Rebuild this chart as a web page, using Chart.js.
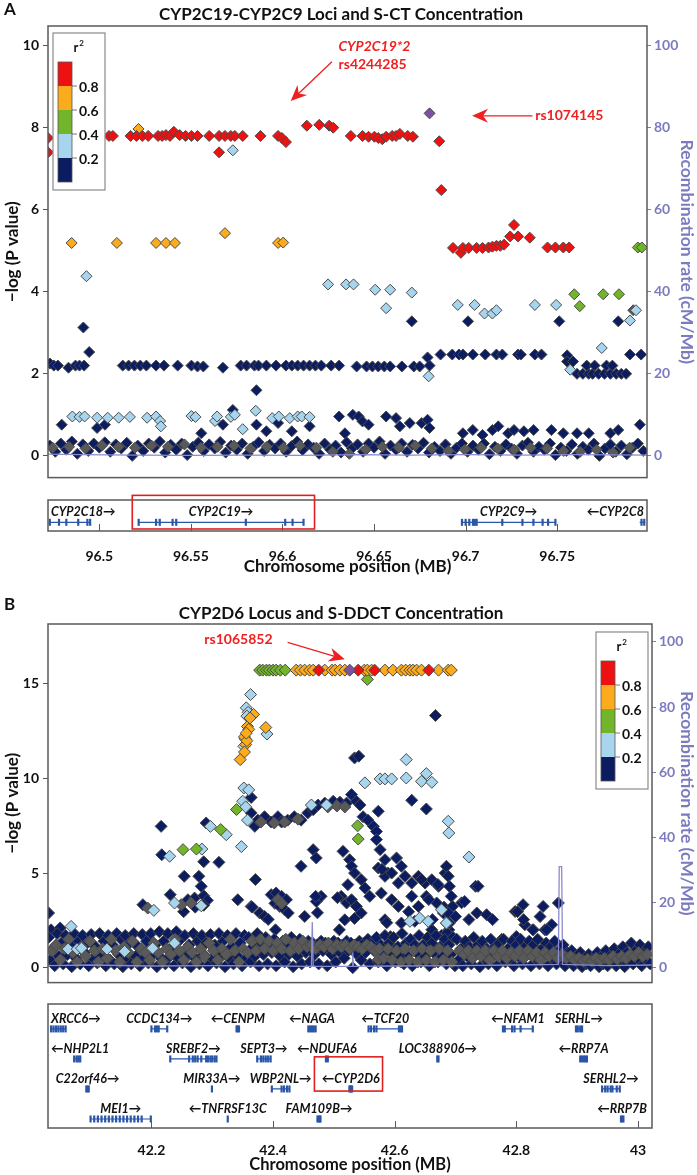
<!DOCTYPE html>
<html>
<head>
<meta charset="utf-8">
<script src="https://cdn.jsdelivr.net/npm/chart.js@4/dist/chart.umd.min.js"></script>
<style>
  body { margin: 0; background: #fff; width: 697px; height: 1175px; overflow: hidden; }
  canvas { position: absolute; left: 0; }
</style>
</head>
<body>
<canvas id="aMain" width="697" height="490" style="top:0"></canvas>
<canvas id="aGene" width="697" height="95" style="top:490px"></canvas>
<canvas id="bMain" width="697" height="410" style="top:585px"></canvas>
<canvas id="bGene" width="697" height="180" style="top:995px"></canvas>
<script>
// r2 colour key (top to bottom) and its break labels
const ldColors = ['#ee1111', '#fbab1c', '#72b42a', '#a8d5ee', '#0b1c60'];
const ldBreaks = [0.8, 0.6, 0.4, 0.2];
const leadColor = '#7a529e';
const grayColor = '#595959';
const recombColor = '#8a8ad0';
const axisBlue = '#7b7bbf';

// ---------- panel A : CYP2C19-CYP2C9 (x in MB, y = -log10 P) ----------
const aXTicks = [96.5, 96.55, 96.6, 96.65, 96.7, 96.75];
const aYTicks = [0, 2, 4, 6, 8, 10];
const aRTicks = [0, 20, 40, 60, 80, 100];

const aLead = [[96.6803, 8.35]];
const aRed = [
  [96.4720, 7.75], [96.4720, 7.4], [96.5053, 7.8], [96.5074, 7.8], [96.5171, 7.8], [96.5203, 7.8], [96.5235, 7.8],
  [96.5267, 7.8], [96.5321, 7.8], [96.5343, 7.8], [96.5364, 7.82], [96.5386, 7.8], [96.5407, 7.9], [96.5439, 7.82],
  [96.5471, 7.8], [96.5503, 7.8], [96.5536, 7.8], [96.5600, 7.8], [96.5654, 7.8], [96.5654, 7.4], [96.5686, 7.8],
  [96.5718, 7.8], [96.5740, 7.8], [96.5783, 7.8], [96.5880, 7.8], [96.5976, 7.8], [96.5997, 7.75], [96.6019, 7.65],
  [96.6133, 8.05], [96.6201, 8.07], [96.6255, 8.05], [96.6277, 8.0],
  [96.6373, 7.8], [96.6437, 7.8], [96.6470, 7.78], [96.6502, 7.78], [96.6523, 7.75], [96.6545, 7.72], [96.6566, 7.78],
  [96.6599, 7.8], [96.6620, 7.8], [96.6641, 7.85], [96.6684, 7.8], [96.6712, 7.78],
  [96.6856, 7.67], [96.6867, 6.48],
  [96.6931, 5.07], [96.6974, 4.95], [96.6985, 5.07], [96.7017, 5.07], [96.7060, 5.07], [96.7092, 5.07], [96.7125, 5.08],
  [96.7146, 5.1], [96.7168, 5.12], [96.7189, 5.12], [96.7210, 5.15],
  [96.7243, 5.35], [96.7264, 5.63], [96.7286, 5.35], [96.7350, 5.32],
  [96.7447, 5.08], [96.7490, 5.08], [96.7533, 5.08], [96.7565, 5.08]
];
const aOrange = [
  [96.5214, 7.97], [96.4849, 5.19], [96.5096, 5.19], [96.5310, 5.19], [96.5364, 5.19], [96.5413, 5.19],
  [96.5686, 5.43], [96.5976, 5.19], [96.6004, 5.2]
];
const aGreen = [
  [96.7940, 5.08], [96.7962, 5.08], [96.7593, 3.94], [96.7751, 3.94], [96.7837, 3.94], [96.7623, 3.65]
];
const aLightBlue = [
  [96.5729, 7.45], [96.4930, 4.38], [96.6249, 4.18], [96.6347, 4.18], [96.6388, 4.18], [96.6506, 4.05], [96.6588, 4.05],
  [96.6706, 3.98], [96.6566, 3.6], [96.6957, 3.68], [96.7049, 3.68], [96.7378, 3.68], [96.7494, 3.68], [96.7103, 3.47],
  [96.7146, 3.47], [96.7168, 3.55], [96.7897, 3.3], [96.7930, 3.55], [96.6798, 1.94], [96.7571, 2.1], [96.7743, 2.63],
  [96.4853, 0.96], [96.4892, 0.95], [96.4920, 0.96], [96.4988, 0.93], [96.5046, 0.93], [96.5106, 0.93], [96.5167, 0.95],
  [96.5261, 0.93], [96.5310, 0.96], [96.5332, 0.85], [96.5336, 0.72], [96.5503, 0.97], [96.5525, 0.95], [96.5632, 0.85],
  [96.5643, 0.96], [96.5718, 0.95], [96.5740, 1.0], [96.5854, 1.1], [96.5783, 0.65], [96.5944, 0.92], [96.5980, 0.96],
  [96.6040, 0.92], [96.6083, 0.96], [96.6105, 0.96], [96.6148, 0.95]
];
const aGray = [
  [96.7915, 3.55], [96.4745, 0.2], [96.4835, 0.22], [96.4925, 0.18], [96.5015, 0.25], [96.5105, 0.22], [96.5195, 0.2],
  [96.5285, 0.25], [96.5375, 0.22], [96.5465, 0.28], [96.5555, 0.2], [96.5645, 0.22], [96.5735, 0.25], [96.5825, 0.18],
  [96.5915, 0.22], [96.6005, 0.2], [96.6095, 0.25], [96.6185, 0.2], [96.6275, 0.1], [96.6365, 0.05], [96.6455, 0.15],
  [96.6545, 0.22], [96.6635, 0.2], [96.6725, 0.25], [96.6815, 0.18], [96.6905, 0.12], [96.6995, 0.15], [96.7085, 0.2],
  [96.7175, 0.18], [96.7265, 0.15], [96.7355, 0.2], [96.7445, 0.18], [96.7535, 0.12], [96.7625, 0.1], [96.7715, 0.15],
  [96.7805, 0.08], [96.7895, 0.2]
];
const aNavy = [
  [96.6706, 3.28], [96.7013, 3.28], [96.7511, 3.28], [96.7833, 3.28], [96.4913, 3.13], [96.4945, 2.53],
  [96.4731, 2.25], [96.4752, 2.2], [96.4774, 2.2], [96.4832, 2.15], [96.4870, 2.2], [96.4892, 2.2], [96.4917, 2.2],
  [96.5128, 2.2], [96.5160, 2.2], [96.5192, 2.2], [96.5224, 2.2], [96.5257, 2.2], [96.5310, 2.2], [96.5353, 2.2],
  [96.5428, 2.2], [96.5503, 2.2], [96.5536, 2.18], [96.5568, 2.18], [96.5675, 2.15], [96.5772, 2.2], [96.5804, 2.2],
  [96.5847, 2.2], [96.5869, 2.2], [96.5912, 2.2], [96.5965, 2.2], [96.6019, 2.2], [96.6051, 2.2], [96.6083, 2.2],
  [96.6115, 2.2], [96.6148, 2.2], [96.6180, 2.2], [96.6212, 2.2], [96.6266, 2.2], [96.6309, 2.2], [96.6405, 2.18],
  [96.6459, 2.18], [96.6491, 2.18], [96.6523, 2.18], [96.6556, 2.18], [96.6588, 2.18], [96.6652, 2.18], [96.6717, 2.18],
  [96.6749, 2.18], [96.6792, 2.4], [96.6803, 2.2],
  [96.6863, 2.47], [96.6927, 2.47], [96.6964, 2.47], [96.6985, 2.47], [96.7039, 2.47], [96.7107, 2.47], [96.7168, 2.47],
  [96.7200, 2.47], [96.7286, 2.47], [96.7301, 2.47], [96.7378, 2.47], [96.7414, 2.47], [96.7554, 2.45], [96.7897, 2.47],
  [96.7958, 2.47],
  [96.7554, 2.3], [96.7586, 2.3], [96.7608, 2.0], [96.7640, 2.0], [96.7672, 2.0], [96.7693, 2.0], [96.7726, 2.0],
  [96.7758, 2.0], [96.7790, 2.0], [96.7822, 2.0], [96.7850, 2.0], [96.7876, 2.0], [96.7661, 2.2], [96.7704, 2.2],
  [96.7769, 2.2], [96.7801, 2.2], [96.5858, 1.6],
  [96.4795, 0.76], [96.4988, 0.68], [96.5031, 0.76], [96.5557, 0.55], [96.5675, 0.76], [96.5729, 1.12], [96.5858, 0.76],
  [96.5912, 0.6], [96.5976, 0.8], [96.6051, 0.6], [96.6148, 0.72], [96.6309, 0.96], [96.6341, 0.55], [96.6384, 1.0],
  [96.6416, 0.96], [96.6437, 0.84], [96.6470, 0.76], [96.6566, 0.96], [96.6620, 0.92], [96.6641, 0.72], [96.6695, 0.8],
  [96.6760, 0.8], [96.6792, 0.88], [96.6803, 0.68], [96.6985, 0.55], [96.7039, 0.63], [96.7092, 0.51], [96.7146, 0.63],
  [96.7178, 0.72], [96.7232, 0.55], [96.7264, 0.63], [96.7318, 0.6], [96.7371, 0.63], [96.7468, 0.63], [96.7533, 0.55],
  [96.7608, 0.55], [96.7672, 0.55], [96.7790, 0.55], [96.7833, 0.63], [96.7951, 0.76],
  [96.473, 0.25], [96.476, 0.1], [96.479, 0.3], [96.482, 0.15], [96.485, 0.35], [96.488, 0.05], [96.491, 0.28],
  [96.494, 0.12], [96.497, 0.3], [96.500, 0.2], [96.503, 0.33], [96.506, 0.1], [96.509, 0.28], [96.512, 0.18],
  [96.515, 0.32], [96.518, 0.0], [96.521, 0.25], [96.524, 0.12], [96.527, 0.3], [96.530, 0.2], [96.533, 0.35],
  [96.536, 0.08], [96.539, 0.27], [96.542, 0.15], [96.545, 0.3], [96.548, 0.02], [96.551, 0.22], [96.554, 0.32],
  [96.557, 0.12], [96.560, 0.28], [96.563, 0.18], [96.566, 0.34], [96.569, 0.08], [96.572, 0.25], [96.575, 0.15],
  [96.578, 0.3], [96.581, 0.05], [96.584, 0.22], [96.587, 0.33], [96.590, 0.12], [96.593, 0.27], [96.596, 0.18],
  [96.599, 0.3], [96.602, 0.1], [96.605, 0.24], [96.608, 0.35], [96.611, 0.14], [96.614, 0.28], [96.617, 0.2],
  [96.620, 0.05], [96.623, 0.3], [96.626, 0.15], [96.629, 0.25], [96.632, 0.08], [96.635, 0.33], [96.638, 0.18],
  [96.641, 0.28], [96.644, 0.1], [96.647, 0.3], [96.650, 0.2], [96.653, 0.35], [96.656, 0.05], [96.659, 0.25],
  [96.662, 0.15], [96.665, 0.3], [96.668, 0.1], [96.671, 0.27], [96.674, 0.18], [96.677, 0.32], [96.680, 0.08],
  [96.683, 0.22], [96.686, 0.12], [96.689, 0.28], [96.692, 0.05], [96.695, 0.2], [96.698, 0.3], [96.701, 0.1],
  [96.704, 0.25], [96.707, 0.15], [96.710, 0.3], [96.713, 0.04], [96.716, 0.22], [96.719, 0.12], [96.722, 0.28],
  [96.725, 0.18], [96.728, 0.05], [96.731, 0.25], [96.734, 0.32], [96.737, 0.1], [96.740, 0.22], [96.743, 0.15],
  [96.746, 0.3], [96.749, 0.02], [96.752, 0.2], [96.755, 0.12], [96.758, 0.28], [96.761, 0.05], [96.764, 0.22],
  [96.767, 0.15], [96.770, 0.3], [96.773, 0.0], [96.776, 0.18], [96.779, 0.28], [96.782, 0.1], [96.785, 0.25],
  [96.788, 0.04], [96.791, 0.2], [96.794, 0.3], [96.797, 0.12]
];
const aRecomb = [
  [96.472, 0.4], [96.49, 0.3], [96.52, 0.2], [96.55, 0.1], [96.58, 0.2], [96.61, 0.1],
  [96.64, 0.3], [96.67, 0.2], [96.70, 0.3], [96.73, 0.2], [96.76, 0.3], [96.799, 0.2]
];
// genes: name, start, end, strand, row, exons
const aGenes = [
  ['CYP2C18', 96.473, 96.495, '+', 0, [96.473, 96.478, 96.482, 96.4885, 96.4935, 96.495]],
  ['CYP2C19', 96.5215, 96.6115, '+', 0, [96.5215, 96.531, 96.533, 96.540, 96.542, 96.580, 96.6015, 96.6055, 96.6115]],
  ['CYP2C9', 96.698, 96.749, '+', 0, [96.698, 96.700, 96.702, 96.704, 96.705, 96.706, 96.720, 96.731, 96.737, 96.742, 96.745, 96.749]],
  ['CYP2C8', 96.795, 96.798, '-', 0, [96.796, 96.7975]]
];

// ---------- panel B : CYP2D6 ----------
const bXTicks = [42.2, 42.4, 42.6, 42.8, 43];
const bYTicks = [0, 5, 10, 15];
const bRTicks = [0, 20, 40, 60, 80, 100];

const bLead = [[42.526, 15.73]];
const bRed = [[42.475, 15.73], [42.540, 15.73], [42.567, 15.73], [42.656, 15.73]];
const bOrange = [
  [42.438, 15.73], [42.445, 15.73], [42.452, 15.73], [42.460, 15.73], [42.466, 15.73], [42.485, 15.73], [42.497, 15.73],
  [42.502, 15.73], [42.510, 15.73], [42.518, 15.73], [42.550, 15.73], [42.555, 15.73], [42.562, 15.73], [42.584, 15.73],
  [42.597, 15.73], [42.611, 15.73], [42.618, 15.73], [42.625, 15.73], [42.630, 15.73], [42.636, 15.73], [42.644, 15.73],
  [42.672, 15.73], [42.688, 15.73], [42.693, 15.73],
  [42.368, 13.39], [42.358, 12.75], [42.360, 12.6], [42.353, 12.2], [42.355, 11.8], [42.353, 11.4], [42.346, 11.0],
  [42.357, 12.0], [42.356, 12.4], [42.388, 12.7], [42.362, 13.2]
];
const bGreen = [
  [42.378, 15.73], [42.383, 15.73], [42.389, 15.73], [42.394, 15.73], [42.400, 15.73], [42.405, 15.73], [42.412, 15.73],
  [42.420, 15.73], [42.555, 15.24], [42.340, 8.36], [42.314, 7.3], [42.252, 6.24], [42.274, 6.27], [42.539, 7.5],
  [42.540, 6.8]
];
const bLightBlue = [
  [42.363, 14.44], [42.356, 13.74], [42.359, 13.5], [42.357, 13.3], [42.354, 12.1], [42.352, 11.7], [42.390, 12.35],
  [42.352, 9.5], [42.360, 9.4], [42.350, 8.8], [42.355, 8.5], [42.358, 7.8], [42.348, 6.4], [42.297, 7.47], [42.323, 7.03],
  [42.230, 5.89], [42.283, 6.27], [42.238, 3.42], [42.282, 3.27], [42.204, 3.03], [42.068, 2.18], [42.063, 0.98],
  [42.078, 0.98], [42.085, 1.03], [42.127, 0.98], [42.156, 0.86], [42.202, 1.03], [42.238, 1.3], [42.619, 11.0],
  [42.551, 9.77], [42.576, 9.98], [42.584, 9.98], [42.595, 9.98], [42.619, 10.03], [42.644, 9.85], [42.652, 10.26],
  [42.661, 9.8], [42.463, 8.6], [42.488, 8.6], [42.625, 2.45], [42.641, 2.62], [42.655, 2.45], [42.677, 3.06],
  [42.685, 2.35], [42.688, 7.74], [42.689, 7.12], [42.722, 5.85], [42.685, 2.36]
];
const bGray = [
  [42.249, 3.33], [42.265, 3.42], [42.194, 3.15], [42.573, 0.42], [42.380, 7.7], [42.402, 7.65], [42.419, 7.7],
  [42.441, 7.85], [42.490, 8.5], [42.505, 8.55], [42.518, 8.5], [42.408, 3.6], [42.414, 3.4],
  [42.036, 0.9], [42.043, 1.2], [42.050, 0.4], [42.057, 1.0], [42.064, 1.5], [42.071, 0.8], [42.078, 0.3], [42.085, 1.1],
  [42.092, 0.6], [42.099, 1.4], [42.106, 0.9], [42.113, 0.3], [42.120, 1.0], [42.127, 0.5], [42.134, 1.5], [42.141, 0.9],
  [42.148, 0.3], [42.155, 1.1], [42.162, 0.8], [42.169, 1.4], [42.176, 0.3], [42.183, 1.0], [42.190, 0.8], [42.197, 0.4],
  [42.204, 1.3], [42.211, 0.8], [42.218, 0.3], [42.225, 1.0], [42.232, 0.7], [42.239, 1.5], [42.246, 0.9], [42.253, 0.4],
  [42.260, 1.1], [42.267, 0.8], [42.274, 0.3], [42.281, 1.0], [42.288, 0.6], [42.295, 1.3], [42.302, 0.9], [42.309, 0.4],
  [42.316, 1.0], [42.323, 0.7], [42.330, 1.5], [42.337, 0.9], [42.344, 0.3], [42.351, 1.0], [42.358, 0.8],
  [42.365, 1.4], [42.372, 0.9], [42.379, 1.5], [42.386, 1.0], [42.393, 1.4], [42.400, 0.9], [42.407, 1.3], [42.414, 1.0],
  [42.421, 1.5], [42.428, 0.9], [42.435, 1.3], [42.442, 1.0], [42.449, 1.4], [42.456, 1.1], [42.463, 1.2], [42.470, 1.0],
  [42.477, 1.2], [42.484, 1.1], [42.491, 1.3], [42.498, 1.0], [42.505, 1.2], [42.512, 1.1], [42.519, 1.2], [42.526, 1.0],
  [42.533, 1.2], [42.540, 1.1], [42.547, 1.0], [42.554, 1.2], [42.561, 1.1], [42.568, 0.9], [42.575, 1.0], [42.582, 0.5],
  [42.589, 1.0], [42.596, 0.4], [42.603, 0.9], [42.610, 0.3], [42.617, 1.0], [42.624, 0.4], [42.631, 0.9], [42.638, 0.3],
  [42.645, 1.0], [42.652, 0.4], [42.659, 0.9], [42.666, 0.3], [42.673, 1.0], [42.680, 0.4], [42.687, 0.9], [42.694, 0.3],
  [42.707, 0.9], [42.714, 0.7], [42.721, 0.9], [42.728, 0.5], [42.735, 0.9], [42.742, 0.6], [42.749, 0.9], [42.756, 0.4],
  [42.763, 0.9], [42.770, 0.6], [42.777, 0.9], [42.784, 0.5], [42.791, 0.8], [42.798, 0.6], [42.805, 0.9], [42.812, 0.5],
  [42.819, 0.9], [42.826, 0.6], [42.833, 0.8], [42.840, 0.4], [42.847, 0.8], [42.854, 0.6], [42.861, 0.8], [42.868, 0.5],
  [42.875, 0.7], [42.882, 0.5], [42.889, 0.6], [42.896, 0.4], [42.903, 0.5], [42.910, 0.35], [42.917, 0.45], [42.924, 0.35],
  [42.931, 0.5], [42.938, 0.4], [42.945, 0.5], [42.952, 0.4], [42.959, 0.6], [42.966, 0.45], [42.973, 0.6], [42.980, 0.5],
  [42.987, 0.7], [42.994, 0.6], [43.001, 0.8], [43.008, 0.6], [43.015, 0.7]
];
const bNavy = [
  [42.667, 13.33], [42.534, 11.09], [42.541, 11.18], [42.628, 8.85], [42.652, 8.39], [42.364, 9.0], [42.216, 7.47],
  [42.290, 7.65], [42.217, 5.97], [42.311, 5.57], [42.254, 4.83], [42.278, 4.83], [42.231, 3.86], [42.260, 3.59],
  [42.271, 3.68], [42.286, 3.8], [42.292, 3.56], [42.186, 3.33], [42.342, 3.59], [42.031, 2.89], [42.035, 2.0],
  [42.050, 2.1],
  [42.364, 8.18], [42.370, 7.47], [42.375, 7.8], [42.386, 7.98], [42.397, 7.7], [42.408, 7.98], [42.414, 7.7],
  [42.424, 7.8], [42.435, 7.98], [42.446, 7.8], [42.457, 8.18], [42.466, 8.35], [42.474, 8.6], [42.485, 8.7],
  [42.499, 8.8], [42.510, 8.75], [42.521, 8.7], [42.529, 9.15], [42.537, 8.8], [42.543, 8.6], [42.548, 7.98],
  [42.556, 7.8], [42.565, 7.47], [42.570, 7.2],
  [42.573, 8.27], [42.576, 6.24], [42.584, 5.71], [42.603, 5.8], [42.570, 6.77], [42.589, 5.0], [42.611, 5.36],
  [42.446, 5.36], [42.466, 6.24], [42.471, 5.8], [42.515, 6.15], [42.526, 5.71], [42.529, 5.36], [42.534, 5.0],
  [42.545, 4.65], [42.523, 4.39], [42.551, 4.21], [42.559, 3.77],
  [42.397, 3.86], [42.405, 3.95], [42.414, 3.77], [42.422, 3.59], [42.403, 3.4], [42.411, 3.24], [42.419, 3.06],
  [42.425, 2.89], [42.364, 3.24], [42.378, 2.89], [42.386, 2.71], [42.471, 3.5], [42.479, 3.77], [42.452, 2.71],
  [42.512, 3.77], [42.521, 3.42], [42.529, 3.59], [42.537, 3.24], [42.545, 2.89], [42.518, 2.53], [42.534, 2.6],
  [42.573, 5.27], [42.584, 4.83], [42.595, 5.0], [42.606, 4.47], [42.617, 4.83], [42.628, 4.47], [42.639, 4.83],
  [42.650, 4.47], [42.661, 4.65], [42.672, 4.3], [42.683, 5.0], [42.578, 3.94], [42.595, 3.59], [42.606, 3.24],
  [42.628, 3.77], [42.639, 3.24], [42.652, 3.77], [42.669, 3.42], [42.680, 2.89], [42.584, 2.53], [42.611, 2.36],
  [42.633, 2.45], [42.661, 2.0], [42.677, 1.7],
  [42.253, 2.96], [42.272, 3.2], [42.282, 4.3], [42.286, 5.6], [42.286, 3.3], [42.366, 3.2], [42.392, 2.55],
  [42.404, 2.0], [42.371, 4.66], [42.470, 3.77], [42.473, 2.9], [42.506, 3.7], [42.509, 2.0], [42.579, 5.2],
  [42.587, 2.38], [42.593, 1.64], [42.623, 2.96], [42.644, 4.66], [42.656, 3.6], [42.662, 2.54], [42.671, 4.4],
  [42.681, 3.2], [42.689, 2.0],
  [42.685, 5.36], [42.688, 4.83], [42.690, 4.3], [42.693, 3.77], [42.695, 3.24], [42.688, 2.89], [42.690, 2.36],
  [42.686, 1.83], [42.700, 2.7], [42.710, 3.43], [42.715, 3.5], [42.722, 2.54], [42.733, 4.3], [42.737, 4.3],
  [42.735, 2.89], [42.751, 2.8], [42.761, 2.54], [42.776, 1.5], [42.798, 2.97], [42.811, 3.33], [42.814, 2.27],
  [42.844, 3.24], [42.869, 3.42], [42.828, 2.0], [42.847, 2.0], [42.858, 2.27], [42.800, 1.65], [42.802, 2.96],
  [42.812, 2.54], [42.827, 2.0], [42.839, 2.7], [42.850, 2.0],
  [42.031, 1.6], [42.034, 0.4], [42.038, 1.0], [42.041, 0.1], [42.045, 1.8], [42.048, 0.6], [42.052, 1.3], [42.055, 0.2],
  [42.059, 1.7], [42.062, 0.7], [42.066, 1.2], [42.069, 0.05], [42.073, 1.8], [42.076, 0.5], [42.080, 1.4], [42.083, 0.2],
  [42.087, 1.7], [42.090, 0.8], [42.094, 1.3], [42.097, 0.1], [42.101, 1.75], [42.104, 0.5], [42.108, 1.1], [42.111, 0.25],
  [42.115, 1.8], [42.118, 0.6], [42.122, 1.4], [42.125, 0.1], [42.129, 1.7], [42.132, 0.4], [42.136, 1.2], [42.139, 0.2],
  [42.143, 1.8], [42.146, 0.7], [42.150, 1.5], [42.153, 0.05], [42.157, 1.7], [42.160, 0.5], [42.164, 1.3], [42.167, 0.2],
  [42.171, 1.8], [42.174, 0.6], [42.178, 1.1], [42.181, 0.1], [42.185, 1.75], [42.188, 0.5], [42.192, 1.4], [42.195, 0.25],
  [42.199, 1.8], [42.202, 0.7], [42.206, 1.2], [42.209, 0.05], [42.213, 1.9], [42.216, 0.5], [42.220, 1.4], [42.223, 0.2],
  [42.227, 1.8], [42.230, 0.6], [42.234, 1.1], [42.237, 0.1], [42.241, 1.9], [42.244, 0.5], [42.248, 1.5], [42.251, 0.25],
  [42.255, 1.7], [42.258, 0.6], [42.262, 1.2], [42.265, 0.05], [42.269, 1.8], [42.272, 0.5], [42.276, 1.4], [42.279, 0.2],
  [42.283, 1.7], [42.286, 0.7], [42.290, 1.3], [42.293, 0.1], [42.297, 1.75], [42.300, 0.5], [42.304, 1.2], [42.307, 0.25],
  [42.311, 1.8], [42.314, 0.6], [42.318, 1.4], [42.321, 0.05], [42.325, 1.7], [42.328, 0.5], [42.332, 1.1], [42.335, 0.2],
  [42.339, 1.8], [42.342, 0.6], [42.346, 1.3], [42.349, 0.1], [42.353, 1.7], [42.356, 0.5],
  [42.360, 1.6], [42.363, 0.3], [42.367, 1.1], [42.370, 0.6], [42.374, 1.8], [42.377, 0.1], [42.381, 1.3], [42.384, 0.7],
  [42.388, 1.6], [42.391, 0.2], [42.395, 1.2], [42.398, 0.8], [42.402, 1.5], [42.405, 0.1], [42.409, 1.1], [42.412, 0.6],
  [42.416, 1.4], [42.419, 0.3], [42.423, 1.2], [42.426, 0.7], [42.430, 1.6], [42.433, 0.05], [42.437, 1.3], [42.440, 0.6],
  [42.444, 1.5], [42.447, 0.2], [42.451, 1.2], [42.454, 0.8], [42.458, 1.4], [42.461, 0.3], [42.465, 1.3], [42.468, 0.7],
  [42.472, 1.2], [42.475, 0.2], [42.479, 1.4], [42.482, 0.9], [42.486, 1.3], [42.489, 0.1], [42.493, 1.2], [42.496, 0.7],
  [42.500, 1.4], [42.503, 0.3], [42.507, 1.3], [42.510, 0.8], [42.514, 1.2], [42.517, 0.5], [42.521, 1.4], [42.524, 0.9],
  [42.528, 1.3], [42.531, 0.0], [42.535, 1.2], [42.538, 0.7], [42.542, 1.4], [42.545, 0.4], [42.549, 1.3], [42.552, 0.8],
  [42.556, 1.5], [42.559, 0.2], [42.563, 1.3], [42.566, 0.9], [42.570, 1.6], [42.573, 0.3], [42.577, 1.2], [42.580, 0.7],
  [42.584, 1.7], [42.587, 0.1], [42.591, 1.3], [42.594, 0.8], [42.598, 1.6], [42.601, 0.3], [42.605, 1.1], [42.608, 0.6],
  [42.612, 1.8], [42.615, 0.2], [42.619, 1.3], [42.622, 0.7], [42.626, 1.5], [42.629, 0.1], [42.633, 1.2], [42.636, 0.8],
  [42.640, 1.7], [42.643, 0.3], [42.647, 1.2], [42.650, 0.6], [42.654, 1.6], [42.657, 0.1], [42.661, 1.3], [42.664, 0.8],
  [42.668, 1.7], [42.671, 0.3], [42.675, 1.1], [42.678, 0.6], [42.682, 1.5], [42.685, 0.2], [42.689, 1.2], [42.692, 0.7],
  [42.696, 1.6], [42.699, 0.1],
  [42.702, 1.5], [42.705, 0.4], [42.709, 1.0], [42.712, 0.1], [42.716, 1.4], [42.719, 0.6], [42.723, 1.1], [42.726, 0.2],
  [42.730, 1.6], [42.733, 0.7], [42.737, 1.2], [42.740, 0.05], [42.744, 1.4], [42.747, 0.5], [42.751, 1.0], [42.754, 0.2],
  [42.758, 1.5], [42.761, 0.6], [42.765, 1.1], [42.768, 0.1], [42.772, 1.3], [42.775, 0.7], [42.779, 1.5], [42.782, 0.3],
  [42.786, 1.0], [42.789, 0.5], [42.793, 1.4], [42.796, 0.1], [42.800, 1.2], [42.803, 0.6], [42.807, 1.5], [42.810, 0.2],
  [42.814, 1.1], [42.817, 0.7], [42.821, 1.4], [42.824, 0.1], [42.828, 1.2], [42.831, 0.5], [42.835, 1.5], [42.838, 0.2],
  [42.842, 1.0], [42.845, 0.6], [42.849, 1.3], [42.852, 0.1], [42.856, 1.1], [42.859, 0.5], [42.863, 1.4], [42.866, 0.2],
  [42.870, 0.9], [42.873, 0.5], [42.877, 1.2], [42.880, 0.1], [42.884, 0.8], [42.887, 0.4], [42.891, 0.9], [42.894, 0.1],
  [42.898, 0.6], [42.901, 0.3], [42.905, 0.8], [42.908, 0.05], [42.912, 0.5], [42.915, 0.2], [42.919, 0.7], [42.922, 0.1],
  [42.926, 0.5], [42.929, 0.3], [42.933, 0.8], [42.936, 0.05], [42.940, 0.6], [42.943, 0.2], [42.947, 0.9], [42.950, 0.1],
  [42.954, 0.6], [42.957, 0.3], [42.961, 1.0], [42.964, 0.1], [42.968, 0.7], [42.971, 0.3], [42.975, 1.1], [42.978, 0.05],
  [42.982, 0.8], [42.985, 0.4], [42.989, 1.3], [42.992, 0.2], [42.996, 0.9], [42.999, 0.5], [43.003, 1.2], [43.006, 0.1],
  [43.010, 0.8], [43.013, 0.4], [43.017, 1.1], [43.020, 0.2]
];
const bRecomb = [
  [42.03, 0.6], [42.10, 0.8], [42.20, 0.5], [42.30, 0.6], [42.40, 0.5], [42.463, 0.4], [42.4645, 14], [42.466, 0.4],
  [42.530, 0.4], [42.531, 4.6], [42.532, 0.4], [42.60, 0.5], [42.70, 0.6], [42.80, 0.8], [42.869, 1], [42.8705, 31],
  [42.8745, 31], [42.876, 1], [42.95, 0.6], [43.023, 0.8]
];
const bGenes = [
  ['XRCC6', 42.035, 42.059, '+', 0, [42.035, 42.039, 42.043, 42.047, 42.051, 42.055, 42.059]],
  ['CCDC134', 42.200, 42.226, '+', 0, [42.200, 42.206, 42.209, 42.212, 42.226]],
  ['CENPM', 42.340, 42.344, '-', 0, [42.340, 42.342, 42.344]],
  ['NAGA', 42.458, 42.470, '-', 0, [42.458, 42.461, 42.464, 42.467, 42.470]],
  ['TCF20', 42.557, 42.612, '-', 0, [42.557, 42.561, 42.566, 42.570, 42.607, 42.610, 42.612]],
  ['NFAM1', 42.778, 42.827, '-', 0, [42.778, 42.781, 42.793, 42.797, 42.807, 42.827]],
  ['SERHL', 42.898, 42.908, '+', 0, [42.898, 42.901, 42.905, 42.908]],
  ['NHP2L1', 42.073, 42.083, '-', 1, [42.073, 42.077, 42.080, 42.083]],
  ['SREBF2', 42.231, 42.307, '+', 1, [42.231, 42.262, 42.268, 42.272, 42.276, 42.282, 42.290, 42.293, 42.297, 42.300, 42.304, 42.307]],
  ['SEPT3', 42.374, 42.396, '+', 1, [42.374, 42.380, 42.384, 42.388, 42.392, 42.396]],
  ['NDUFA6', 42.487, 42.490, '-', 1, [42.487, 42.490]],
  ['LOC388906', 42.670, 42.672, '+', 1, [42.670, 42.672]],
  ['RRP7A', 42.905, 42.916, '-', 1, [42.905, 42.908, 42.911, 42.914, 42.916]],
  ['C22orf46', 42.093, 42.097, '+', 2, [42.093, 42.095, 42.097]],
  ['MIR33A', 42.2995, 42.2995, '+', 2, [42.2995]],
  ['WBP2NL', 42.398, 42.427, '+', 2, [42.398, 42.414, 42.418, 42.423, 42.427]],
  ['CYP2D6', 42.5255, 42.530, '-', 2, [42.5255, 42.527, 42.5285, 42.530]],
  ['SERHL2', 42.941, 42.970, '+', 2, [42.941, 42.946, 42.950, 42.955, 42.958, 42.965, 42.970]],
  ['MEI1', 42.100, 42.199, '+', 3, [42.100, 42.106, 42.112, 42.118, 42.124, 42.130, 42.136, 42.142, 42.148, 42.154, 42.160, 42.166, 42.172, 42.178, 42.184, 42.199]],
  ['TNFRSF13C', 42.3255, 42.3255, '-', 3, [42.3255]],
  ['FAM109B', 42.473, 42.478, '+', 3, [42.473, 42.475, 42.477, 42.478]],
  ['RRP7B', 42.972, 42.976, '-', 3, [42.972, 42.974, 42.976]]
];

const FONT = 'Lato, "DejaVu Sans", sans-serif';
Chart.defaults.font.family = FONT;
Chart.defaults.animation = false;

function pts(list) { return list.map(p => ({ x: p[0], y: p[1] })); }

function dots(list, color, order, r) {
  return {
    data: pts(list), backgroundColor: color, borderColor: '#4a4a4a', borderWidth: 1,
    pointStyle: 'rectRot', pointRadius: r, pointHoverRadius: r, order: order, yAxisID: 'y'
  };
}

function fixedTicks(list) {
  return s => { s.ticks = list.map(v => ({ value: v })); };
}

function arrow(ctx, x1, y1, x2, y2) {
  const ang = Math.atan2(y2 - y1, x2 - x1);
  ctx.beginPath(); ctx.moveTo(x1, y1); ctx.lineTo(x2 - Math.cos(ang) * 8, y2 - Math.sin(ang) * 8); ctx.stroke();
  ctx.save(); ctx.translate(x2, y2); ctx.rotate(ang);
  ctx.beginPath(); ctx.moveTo(0, 0); ctx.lineTo(-16, -7); ctx.lineTo(-11, 0); ctx.lineTo(-16, 7); ctx.closePath(); ctx.fill();
  ctx.restore();
}

function drawLegend(ctx, lx, ly) {
  ctx.fillStyle = '#fff'; ctx.fillRect(lx, ly, 52, 157);
  ctx.strokeStyle = '#8a8a8a'; ctx.lineWidth = 1.2; ctx.strokeRect(lx, ly, 52, 157);
  ctx.fillStyle = '#111'; ctx.font = 'bold 13px ' + FONT; ctx.textAlign = 'center'; ctx.textBaseline = 'middle';
  ctx.fillText('r', lx + 23, ly + 15);
  ctx.font = 'bold 8px ' + FONT; ctx.fillText('2', lx + 28.5, ly + 10);
  ldColors.forEach((c, i) => { ctx.fillStyle = c; ctx.fillRect(lx + 5, ly + 29 + i * 24, 14, 24); });
  ctx.strokeStyle = '#555'; ctx.lineWidth = 0.8; ctx.strokeRect(lx + 5, ly + 29, 14, 120);
  ctx.font = 'bold 14px ' + FONT; ctx.textAlign = 'left'; ctx.fillStyle = '#111';
  ldBreaks.forEach((b, i) => {
    const yy = ly + 29 + (i + 1) * 24;
    ctx.beginPath(); ctx.moveTo(lx + 19, yy); ctx.lineTo(lx + 24, yy); ctx.stroke();
    ctx.fillText(b.toFixed(1), lx + 26, yy + 1);
  });
}

// frame, title, legend and arrows of an association plot
const mainDeco = {
  id: 'mainDeco',
  afterDraw(chart, args, o) {
    const { ctx, chartArea: a, scales: { x, y } } = chart;
    ctx.save();
    ctx.strokeStyle = '#5a5a5a'; ctx.lineWidth = 1.5;
    ctx.strokeRect(a.left, a.top, a.right - a.left, a.bottom - a.top);
    ctx.fillStyle = '#111'; ctx.textBaseline = 'middle';
    ctx.font = 'bold 17px ' + FONT; ctx.textAlign = 'left';
    ctx.fillText(o.letter, 4, o.letterY);
    ctx.textAlign = 'center';
    ctx.fillText(o.title, 341, o.titleY);
    drawLegend(ctx, o.legendLeft ? a.left + 5 : a.right - 56, a.top + (o.legendLeft ? 7 : 8));
    ctx.fillStyle = '#ee2020'; ctx.strokeStyle = '#ee2020'; ctx.lineWidth = 1.3;
    o.notes.forEach(n => {
      ctx.font = (n.italic ? 'italic ' : '') + 'bold 14px ' + FONT; ctx.textAlign = 'left';
      ctx.fillText(n.text, x.getPixelForValue(n.x), y.getPixelForValue(n.y));
    });
    o.arrows.forEach(r => arrow(ctx, x.getPixelForValue(r[0]), y.getPixelForValue(r[1]), x.getPixelForValue(r[2]), y.getPixelForValue(r[3])));
    ctx.restore();
  }
};

// frame, inner tick marks, gene names, highlight box of a gene track
const geneDeco = {
  id: 'geneDeco',
  afterDraw(chart, args, o) {
    const { ctx, chartArea: a, scales: { x, y } } = chart;
    ctx.save();
    ctx.strokeStyle = '#5a5a5a'; ctx.lineWidth = 1.5;
    ctx.strokeRect(a.left, a.top, a.right - a.left, a.bottom - a.top);
    ctx.lineWidth = 1;
    x.ticks.forEach(t => {
      const px = Math.round(x.getPixelForValue(t.value)) + 0.5;
      ctx.beginPath(); ctx.moveTo(px, a.bottom); ctx.lineTo(px, a.bottom - 7); ctx.stroke();
    });
    ctx.fillStyle = '#111'; ctx.font = 'italic bold 12.5px ' + FONT; ctx.textBaseline = 'middle'; ctx.textAlign = 'left';
    o.genes.forEach(g => {
      const label = g[3] === '+' ? g[0] + '\u2192' : '\u2190' + g[0];
      const w = ctx.measureText(label).width;
      let cx = (x.getPixelForValue(g[1]) + x.getPixelForValue(g[2])) / 2 - w / 2;
      cx = Math.max(a.left + 3, Math.min(a.right - 3 - w, cx));
      ctx.fillText(label, cx, y.getPixelForValue(o.rowValue(g[4])) - 10);
    });
    const b = o.box;
    ctx.strokeStyle = '#e02020'; ctx.lineWidth = 1.6;
    const bx1 = x.getPixelForValue(b[0]), bx2 = x.getPixelForValue(b[1]);
    const by1 = y.getPixelForValue(b[2]), by2 = y.getPixelForValue(b[3]);
    ctx.strokeRect(bx1, by1, bx2 - bx1, by2 - by1);
    ctx.restore();
  }
};

function mainChart(id, cfg) {
  return new Chart(document.getElementById(id), {
    type: 'scatter',
    data: {
      datasets: [
        { data: pts(cfg.recomb), showLine: true, pointRadius: 0, borderColor: recombColor, borderWidth: 1.3, yAxisID: 'y2', order: 0 },
        dots(cfg.lead, leadColor, 1, cfg.r),
        dots(cfg.red, ldColors[0], 2, cfg.r),
        dots(cfg.orange, ldColors[1], 3, cfg.r),
        dots(cfg.green, ldColors[2], 4, cfg.r),
        dots(cfg.lightBlue, ldColors[3], 5, cfg.r),
        dots(cfg.gray, grayColor, 6, cfg.r),
        dots(cfg.navy, ldColors[4], 7, cfg.r)
      ]
    },
    options: {
      responsive: false,
      events: [],
      layout: { padding: { top: cfg.padTop, bottom: cfg.padBottom, left: 0, right: 0 } },
      plugins: {
        legend: { display: false }, tooltip: { enabled: false },
        mainDeco: cfg.deco
      },
      scales: {
        x: { type: 'linear', min: cfg.xMin, max: cfg.xMax, display: false },
        y: {
          position: 'left', min: cfg.yMin, max: cfg.yMax,
          afterBuildTicks: fixedTicks(cfg.yTicks),
          afterFit: s => { s.width = 48; },
          border: { display: false },
          grid: { drawOnChartArea: false, tickLength: 5, color: '#555' },
          ticks: { color: '#111', padding: 4, font: { size: 14, weight: 'bold' } },
          title: { display: true, text: '\u2212log (P value)', color: '#111', padding: { top: 2 }, font: { size: 17, weight: 'bold' } }
        },
        y2: {
          position: 'right', min: cfg.rMin, max: cfg.rMax,
          afterBuildTicks: fixedTicks(cfg.rTicks),
          afterFit: s => { s.width = cfg.rightW; },
          border: { display: false },
          grid: { drawOnChartArea: false, tickLength: 4, color: axisBlue },
          ticks: { color: axisBlue, padding: 3, font: { size: 14, weight: 'bold' } },
          title: { display: true, text: 'Recombination rate (cM/Mb)', color: axisBlue, padding: { top: 0 }, font: { size: 17.5, weight: 'bold' } }
        }
      }
    },
    plugins: [mainDeco]
  });
}

function geneChart(id, cfg) {
  const body = [], exons = [];
  cfg.genes.forEach(g => {
    const r = cfg.rowValue(g[4]);
    if (g[2] > g[1]) body.push({ x: g[1], y: r }, { x: g[2], y: r }, { x: g[2], y: null });
    g[5].forEach(e => exons.push({ x: e, y: r }));
  });
  return new Chart(document.getElementById(id), {
    type: 'scatter',
    data: {
      datasets: [
        { data: body, showLine: true, spanGaps: false, pointRadius: 0, borderColor: '#2a56a8', borderWidth: 1.2 },
        { data: exons, pointStyle: 'line', rotation: 90, pointRadius: 3.5, borderColor: '#2a56a8', borderWidth: 2.2 }
      ]
    },
    options: {
      responsive: false,
      events: [],
      layout: { padding: { top: cfg.padTop, bottom: 0, left: 48, right: cfg.rightW } },
      plugins: {
        legend: { display: false }, tooltip: { enabled: false },
        geneDeco: { genes: cfg.genes, rowValue: cfg.rowValue, box: cfg.box }
      },
      scales: {
        x: {
          type: 'linear', position: 'bottom', min: cfg.xMin, max: cfg.xMax,
          afterBuildTicks: fixedTicks(cfg.xTicks),
          afterFit: s => { s.height = cfg.axisH; },
          border: { display: false },
          grid: { display: false },
          ticks: { color: '#111', padding: cfg.tickPad, maxRotation: 0, font: { size: 14, weight: 'bold' }, callback: v => String(v) },
          title: { display: true, text: 'Chromosome position (MB)', color: '#111', padding: { bottom: cfg.titlePad }, font: { size: cfg.titleSize, weight: 'bold' } }
        },
        y: { display: false, min: cfg.yMin, max: cfg.yMax }
      }
    },
    plugins: [geneDeco]
  });
}

// panel A
mainChart('aMain', {
  recomb: aRecomb, lead: aLead, red: aRed, orange: aOrange, green: aGreen, lightBlue: aLightBlue, gray: aGray, navy: aNavy,
  r: 5.5, padTop: 26, padBottom: 7, xMin: 96.472, xMax: 96.799,
  yMin: -0.53, yMax: 10.48, yTicks: aYTicks, rMin: -5.3, rMax: 104.8, rTicks: aRTicks, rightW: 50,
  deco: {
    letter: 'A', letterY: 10, title: 'CYP2C19-CYP2C9 Loci and S-CT Concentration', titleY: 15, legendLeft: true,
    notes: [
      { text: 'CYP2C19*2', x: 96.6306, y: 9.98, italic: true },
      { text: 'rs4244285', x: 96.6306, y: 9.54 },
      { text: 'rs1074145', x: 96.738, y: 8.29 }
    ],
    arrows: [[96.627, 9.61, 96.6045, 8.65], [96.7365, 8.29, 96.7035, 8.29]]
  }
});
geneChart('aGene', {
  genes: aGenes, rowValue: r => -r, xMin: 96.472, xMax: 96.799, xTicks: aXTicks,
  yMin: -0.3, yMax: 0.77, padTop: 10, rightW: 50, axisH: 54, tickPad: 9, titlePad: 8, titleSize: 17,
  box: [96.518, 96.6175, 0.93, -0.23]
});

// panel B
mainChart('bMain', {
  recomb: bRecomb, lead: bLead, red: bRed, orange: bOrange, green: bGreen, lightBlue: bLightBlue, gray: bGray, navy: bNavy,
  r: 6, padTop: 39, padBottom: 12, xMin: 42.03, xMax: 43.023,
  yMin: -0.79, yMax: 18.17, yTicks: bYTicks, rMin: -4.6, rMax: 105.5, rTicks: bRTicks, rightW: 45,
  deco: {
    letter: 'B', letterY: 20, title: 'CYP2D6 Locus and S-DDCT Concentration', titleY: 29, legendLeft: false,
    notes: [{ text: 'rs1065852', x: 42.287, y: 17.35 }],
    arrows: [[42.424, 17.2, 42.518, 16.3]]
  }
});
geneChart('bGene', {
  genes: bGenes, rowValue: r => 3 - r, xMin: 42.03, xMax: 43.023, xTicks: bXTicks,
  yMin: -0.3, yMax: 3.83, padTop: 9, rightW: 45, axisH: 47, tickPad: 6, titlePad: 0, titleSize: 16.5,
  box: [42.468, 42.580, 2.07, 0.93]
});
</script>
</body>
</html>
